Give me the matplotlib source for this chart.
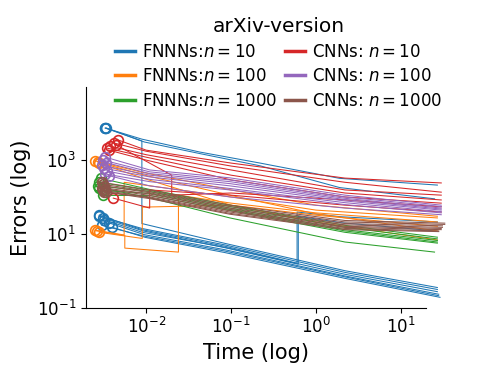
import matplotlib
matplotlib.use("Agg")
import matplotlib.pyplot as plt
import matplotlib.ticker as mticker

# FNNNs n=10 (blue)
fnn10_t = [[0.0033, 0.0089, 0.043, 0.22, 1.9, 27],
           [0.0033, 0.0089, 0.0089, 0.085, 2.2, 27],
           [0.0034, 0.0095, 0.043, 0.22, 1.9, 25],
           [0.0028, 0.0089, 0.085, 0.60, 0.60, 2.0, 27],
           [0.0031, 0.0092, 0.085, 0.62, 0.62, 2.0, 26],
           [0.0028, 0.0089, 0.085, 2.2, 27],
           [0.0032, 0.0090, 0.085, 2.2, 27],
           [0.0036, 0.0095, 0.085, 2.2, 28],
           [0.0030, 0.0092, 0.085, 2.2, 28],
           [0.0040, 0.0098, 0.085, 2.2, 29]]
fnn10_e = [[7400, 3700, 1650, 830, 320, 210],
           [7400, 3300, 19, 5.5, 1.0, 0.35],
           [7400, 3100, 1500, 700, 180, 89],
           [32, 13, 4.6, 1.6, 39, 29, 21],
           [27, 12, 4.2, 1.5, 30, 20, 12],
           [30, 14, 5.0, 0.9, 0.31],
           [24, 11, 4.3, 0.8, 0.27],
           [20, 9.5, 3.7, 0.72, 0.23],
           [17, 8.8, 3.4, 0.68, 0.21],
           [15, 8.0, 3.1, 0.62, 0.19]]

# FNNNs n=100 (orange)
fnn100_t = [[0.0025, 0.0055, 0.0055, 0.025, 0.1, 1.0, 27],
            [0.0028, 0.009, 0.009, 0.1, 1.0, 27],
            [0.0026, 0.0056, 0.0056, 0.024, 0.024, 0.1, 1.0, 27],
            [0.0025, 0.0089, 0.1, 1.0, 27],
            [0.0028, 0.0089, 0.1, 1.0, 27],
            [0.0027, 0.010, 0.1, 1.0, 27]]
fnn100_e = [[12.6, 9.3, 250, 155, 100, 44, 27],
            [11, 7.5, 53, 60, 32, 16],
            [12, 9, 4.1, 3.2, 112, 68, 37, 21],
            [950, 470, 155, 60, 30],
            [820, 330, 60, 21, 6.8],
            [880, 380, 110, 35, 12]]

# FNNNs n=1000 (green)
fnn1000_t = [[0.0029, 0.011, 0.097, 2.2, 27],
             [0.0028, 0.011, 0.097, 2.2, 27],
             [0.0027, 0.011, 0.097, 2.2, 27],
             [0.0030, 0.011, 0.097, 2.2, 27],
             [0.0031, 0.011, 0.097, 2.2, 27],
             [0.0028, 0.011, 0.097, 2.2, 25]]
fnn1000_e = [[320, 160, 60, 17, 8.1],
             [250, 150, 55, 15, 7.3],
             [200, 140, 50, 13, 6.6],
             [150, 125, 46, 12, 6.0],
             [110, 110, 43, 11, 5.6],
             [180, 95, 27, 6.0, 3.2]]

# CNNs n=10 (red)
cnn10_t = [[0.0047, 0.010, 0.10, 2.2, 30],
           [0.0042, 0.010, 0.10, 2.2, 30],
           [0.0037, 0.010, 0.10, 2.2, 30],
           [0.0035, 0.010, 0.10, 2.2, 30],
           [0.0036, 0.010, 0.10, 2.2, 30],
           [0.0041, 0.011, 0.011, 0.10, 2.2, 30],
           [0.0044, 0.020, 0.020, 0.10, 2.2, 30]]
cnn10_e = [[3500, 1860, 830, 325, 240],
           [2900, 1740, 690, 250, 135],
           [2400, 1400, 540, 155, 112],
           [2100, 1200, 390, 128, 83],
           [1870, 1000, 290, 100, 68],
           [93, 50, 155, 112, 60, 39],
           [2600, 390, 112, 128, 83, 54]]

# CNNs n=100 (purple)
cnn100_t = [[0.0033, 0.011, 0.097, 2.2, 30],
            [0.0031, 0.011, 0.097, 2.2, 30],
            [0.0034, 0.011, 0.097, 2.2, 30],
            [0.0030, 0.011, 0.097, 2.2, 30],
            [0.0032, 0.011, 0.097, 2.2, 30],
            [0.0035, 0.011, 0.097, 2.2, 30],
            [0.0033, 0.011, 0.097, 2.2, 30],
            [0.0036, 0.011, 0.097, 2.2, 30]]
cnn100_e = [[1200, 540, 330, 112, 60],
            [1000, 480, 290, 100, 55],
            [850, 430, 260, 92, 50],
            [720, 390, 230, 85, 47],
            [600, 350, 200, 78, 44],
            [500, 300, 170, 70, 40],
            [420, 260, 155, 62, 37],
            [380, 200, 100, 50, 33]]

# CNNs n=1000 (brown)
cnn1000_t = [[0.0030, 0.011, 0.097, 2.2, 33],
             [0.0031, 0.011, 0.097, 2.2, 33],
             [0.0032, 0.011, 0.097, 2.2, 31],
             [0.0030, 0.011, 0.097, 2.2, 31],
             [0.0033, 0.011, 0.097, 2.2, 30],
             [0.0031, 0.011, 0.097, 2.2, 30],
             [0.0032, 0.011, 0.097, 2.2, 28],
             [0.0034, 0.011, 0.097, 2.2, 28]]
cnn1000_e = [[250, 155, 60, 23, 19.5],
             [220, 140, 55, 21, 18],
             [200, 130, 50, 19, 16.5],
             [180, 120, 46, 17.5, 15],
             [165, 110, 42, 16, 14],
             [150, 100, 39, 15, 13],
             [140, 95, 36, 14, 12],
             [135, 90, 34, 13, 11.5]]

groups = [(fnn10_t, fnn10_e, 'tab:blue', 'FNNNs:$n=10$'),
          (fnn100_t, fnn100_e, 'tab:orange', 'FNNNs:$n=100$'),
          (fnn1000_t, fnn1000_e, 'tab:green', 'FNNNs:$n=1000$'),
          (cnn10_t, cnn10_e, 'tab:red', 'CNNs: $n=10$'),
          (cnn100_t, cnn100_e, 'tab:purple', 'CNNs: $n=100$'),
          (cnn1000_t, cnn1000_e, 'tab:brown', 'CNNs: $n=1000$')]

fig = plt.figure(figsize=(4.8, 3.84), dpi=100)
ax = fig.add_axes([0.179, 0.199, 0.708, 0.574])

handles = []
for ts, es, c, lab in groups:
    for t, e in zip(ts, es):
        ax.plot(t, e, color=c, lw=0.75, clip_on=False)
        ax.plot(t[0], e[0], 'o', mfc='none', mec=c, ms=7, mew=1.2, clip_on=False)
    h, = ax.plot([], [], color=c, lw=2.5, label=lab)
    handles.append(h)

ax.set_xscale('log')
ax.set_yscale('log')
ax.set_xlim(0.00195, 19.7)
ax.set_ylim(0.1, 9.5e4)
ax.set_yticks([0.1, 10, 1000])
ax.xaxis.set_minor_locator(mticker.NullLocator())
ax.yaxis.set_minor_locator(mticker.NullLocator())
ax.tick_params(labelsize=12)
ax.spines['top'].set_visible(False)
ax.spines['right'].set_visible(False)
ax.set_xlabel('Time (log)', fontsize=15)
ax.set_ylabel('Errors (log)', fontsize=15)

leg = fig.legend(handles=handles, loc='upper center', bbox_to_anchor=(0.58, 0.995),
                 ncol=2, frameon=False, fontsize=12, title='arXiv-version',
                 title_fontsize=14.5, handlelength=1.2, handletextpad=0.4,
                 columnspacing=0.5, labelspacing=0.4)

fig.savefig('out.png', dpi=100)
